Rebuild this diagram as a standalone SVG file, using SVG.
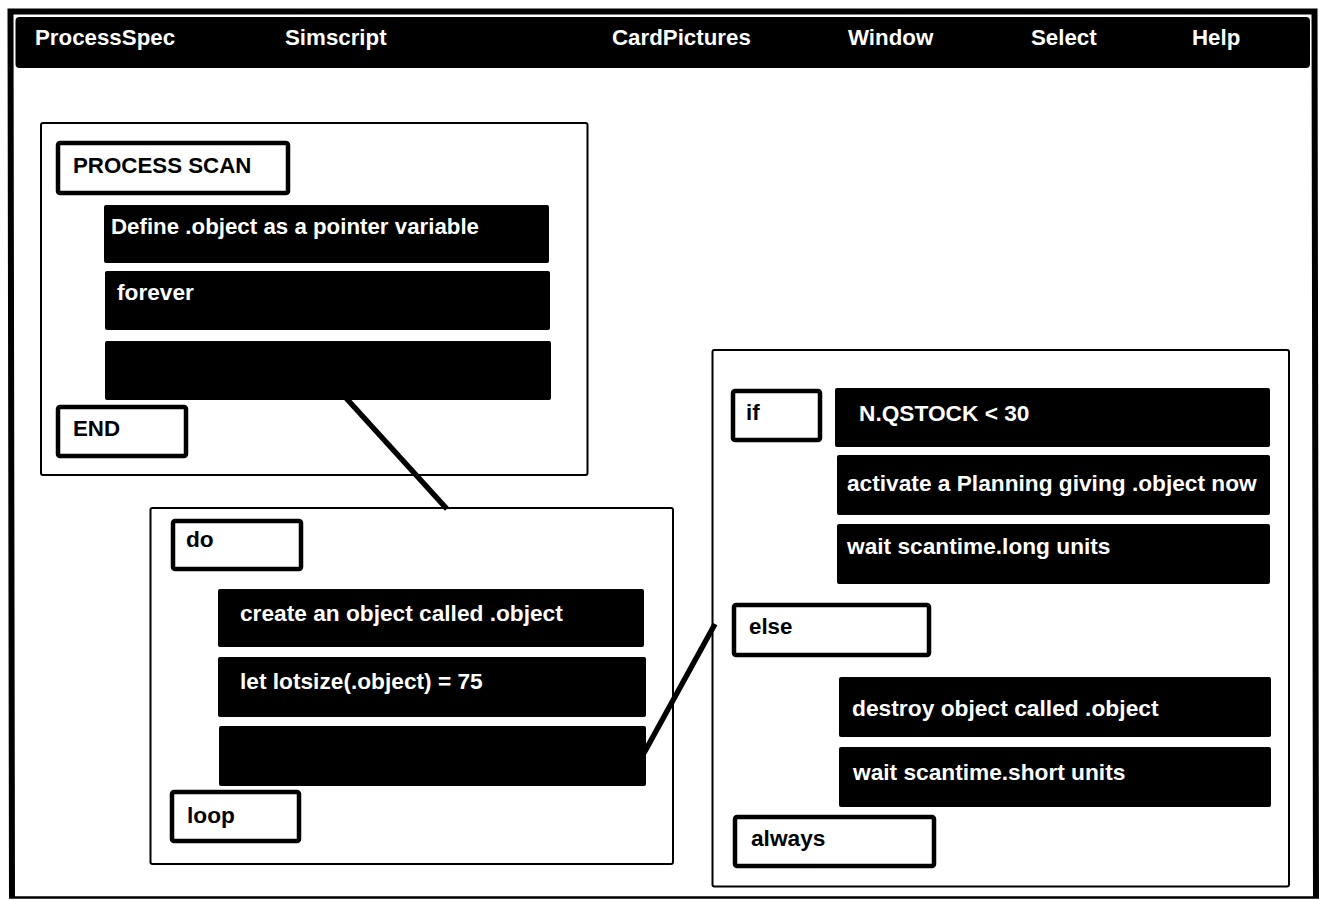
<svg xmlns="http://www.w3.org/2000/svg" width="1319" height="900" viewBox="0 0 1319 900">
<style>
text{font-family:"Liberation Sans",Arial,sans-serif;font-weight:bold;font-size:22.3px}
.l{font-size:22.7px}
.w{fill:#fff}
.k{fill:#000}
.panel{fill:#fff;stroke:#000;stroke-width:2}
.box{fill:#fff;stroke:#000;stroke-width:4.5}
.bar{fill:#000}
.c{stroke:#000;stroke-width:5.5;fill:none}
</style>
<rect width="1319" height="900" fill="#fff"/>
<path d="M12 897L10.500 11.500H1314.500L1316 897" fill="none" stroke="#000" stroke-width="6"/>
<path d="M9 897.500H1319" stroke="#000" stroke-width="2.500"/>
<g id="menubar">
<rect class="bar" x="15.500" y="17" width="1294.500" height="51" rx="4"/>
<text class="w" x="35" y="45">ProcessSpec</text>
<text class="w" x="285" y="45">Simscript</text>
<text class="w" x="612" y="45">CardPictures</text>
<text class="w" x="848" y="45">Window</text>
<text class="w" x="1031" y="45">Select</text>
<text class="w" x="1192" y="45">Help</text>
</g>
<g id="panel-process">
<rect class="panel" x="41" y="123" width="546.500" height="352" rx="2"/>
</g>
<g id="panel-do">
<rect class="panel" x="150.500" y="508" width="522.500" height="356" rx="2"/>
</g>
<g id="panel-if">
<rect class="panel" x="712.500" y="350" width="576.500" height="536.500" rx="2"/>
</g>
<g id="connectors">
<path class="c" d="M346 398L447 509"/>
<path class="c" d="M644 753L715 624"/>
</g>
<g id="process-scan"><rect class="box" x="58" y="143" width="230" height="50" rx="2"/><text class="k" x="73" y="173">PROCESS SCAN</text></g>
<g id="define"><rect class="bar" x="104" y="205" width="445" height="58" rx="2"/><text class="w" x="111" y="234">Define .object as a pointer variable</text></g>
<g id="forever"><rect class="bar" x="105" y="271" width="445" height="59" rx="2"/><text class="w l" x="117" y="300">forever</text></g>
<g id="blank1"><rect class="bar" x="105" y="341" width="446" height="59" rx="2"/></g>
<g id="end"><rect class="box" x="58" y="407" width="128" height="49" rx="2"/><text class="k" x="73" y="436">END</text></g>
<g id="do"><rect class="box" x="173" y="521" width="128" height="48" rx="2"/><text class="k l" x="186" y="547">do</text></g>
<g id="create"><rect class="bar" x="218" y="589" width="426" height="58" rx="2"/><text class="w l" x="240" y="621">create an object called .object</text></g>
<g id="let"><rect class="bar" x="218" y="657" width="428" height="60" rx="2"/><text class="w l" x="240" y="689">let lotsize(.object) = 75</text></g>
<g id="blank2"><rect class="bar" x="219" y="726" width="427" height="60" rx="2"/></g>
<g id="loop"><rect class="box" x="172" y="792" width="127" height="49" rx="2"/><text class="k l" x="187" y="823">loop</text></g>
<g id="if"><rect class="box" x="733" y="391" width="87" height="49" rx="2"/><text class="k" x="746" y="420">if</text></g>
<g id="cond"><rect class="bar" x="835" y="388" width="435" height="59" rx="2"/><text class="w l" x="859" y="421">N.QSTOCK &lt; 30</text></g>
<g id="activate"><rect class="bar" x="837" y="455" width="433" height="60" rx="2"/><text class="w l" x="847" y="491">activate a Planning giving .object now</text></g>
<g id="waitlong"><rect class="bar" x="837" y="524" width="433" height="60" rx="2"/><text class="w l" x="847" y="554">wait scantime.long units</text></g>
<g id="else"><rect class="box" x="734" y="605" width="195" height="50" rx="2"/><text class="k" x="749" y="634">else</text></g>
<g id="destroy"><rect class="bar" x="839" y="677" width="432" height="60" rx="2"/><text class="w" x="852" y="716" style="font-size:22.8px">destroy object called .object</text></g>
<g id="waitshort"><rect class="bar" x="839" y="747" width="432" height="60" rx="2"/><text class="w l" x="853" y="780">wait scantime.short units</text></g>
<g id="always"><rect class="box" x="735" y="817" width="199" height="49" rx="2"/><text class="k l" x="751" y="846">always</text></g>
</svg>
